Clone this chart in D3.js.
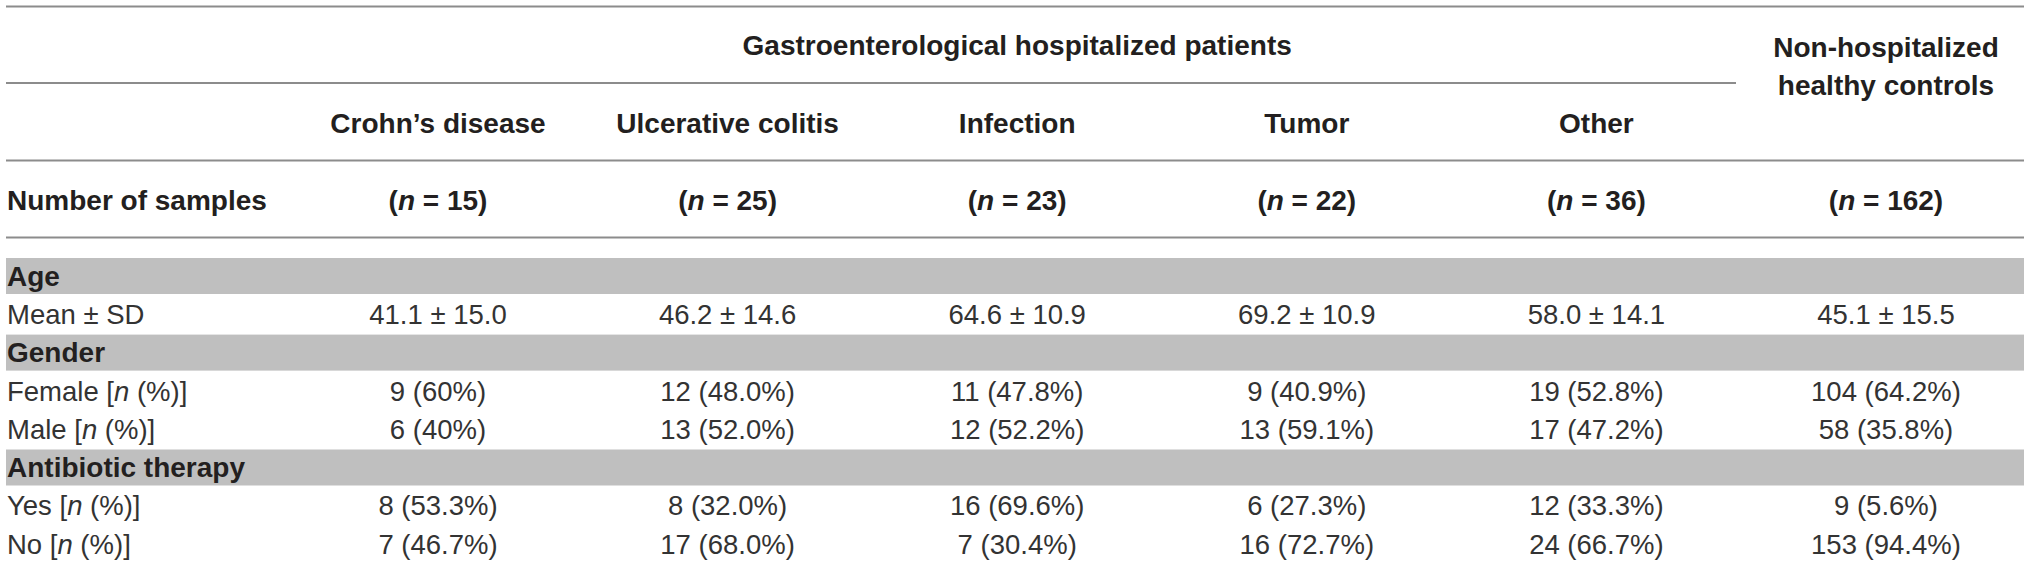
<!DOCTYPE html>
<html>
<head>
<meta charset="utf-8">
<script src="https://cdn.jsdelivr.net/npm/d3@7"></script>
<style>
  html, body { margin: 0; padding: 0; background: #fff; }
  svg { display: block; }
  .bold { font-family: "Liberation Sans", Arial, sans-serif; font-weight: bold; fill: #231f20; font-size: 28px; }
  .body { font-family: "Liberation Sans", Arial, sans-serif; font-weight: normal; fill: #333; font-size: 27.5px; }
</style>
</head>
<body>
<svg id="table"></svg>
<script>
// --- data ---
const groups = ["Crohn\u2019s disease", "Ulcerative colitis", "Infection", "Tumor", "Other", "Non-hospitalized healthy controls"];
const sampleSizes = [15, 25, 23, 22, 36, 162];
const ageMean = ["41.1", "46.2", "64.6", "69.2", "58.0", "45.1"];
const ageSd = ["15.0", "14.6", "10.9", "10.9", "14.1", "15.5"];
const femaleN = [9, 12, 11, 9, 19, 104];
const femalePct = ["60", "48.0", "47.8", "40.9", "52.8", "64.2"];
const maleN = [6, 13, 12, 13, 17, 58];
const malePct = ["40", "52.0", "52.2", "59.1", "47.2", "35.8"];
const abxYesN = [8, 8, 16, 6, 12, 9];
const abxYesPct = ["53.3", "32.0", "69.6", "27.3", "33.3", "5.6"];
const abxNoN = [7, 17, 7, 16, 24, 153];
const abxNoPct = ["46.7", "68.0", "30.4", "72.7", "66.7", "94.4"];
const spannerLabel = "Gastroenterological hospitalized patients";
const hospitalGroups = groups.slice(0, 5);

const pctCells = (n, p) => n.map((v, i) => `${v} (${p[i]}%)`);

// row list: section rows are grey bands, others carry one cell per group
const rows = [
    { key: "age", label: "Age", section: true },
    { key: "mean", label: "Mean \u00b1 SD", cells: ageMean.map((m, i) => `${m} \u00b1 ${ageSd[i]}`) },
    { key: "gender", label: "Gender", section: true },
    { key: "female", label: "Female", cells: pctCells(femaleN, femalePct) },
    { key: "male", label: "Male", cells: pctCells(maleN, malePct) },
    { key: "abx", label: "Antibiotic therapy", section: true },
    { key: "yes", label: "Yes", cells: pctCells(abxYesN, abxYesPct) },
    { key: "no", label: "No", cells: pctCells(abxNoN, abxNoPct) }
];

// --- layout ---
const width = 2031, height = 564;
const left = 6, right = 2024, textLeft = 7;
const svg = d3.select("#table").attr("width", width).attr("height", height);

const x = d3.scalePoint().domain(groups).range([438, 1886]);
const y = d3.scaleBand().domain(rows.map(r => r.key)).range([258, 258 + rows.length * 38.3]);
const bandH = y.bandwidth() - 2.3;
const rowMid = k => y(k) + bandH / 2;

const ruleColor = "#8c8c8c";
function rule(y0, x1) {
    svg.append("line").attr("x1", left).attr("x2", x1)
        .attr("y1", y0).attr("y2", y0)
        .attr("stroke", ruleColor).attr("stroke-width", 2);
}

// grey section bands
svg.selectAll("rect.band")
    .data(rows.filter(r => r.section)).enter().append("rect")
    .attr("class", "band")
    .attr("x", left).attr("width", right - left)
    .attr("y", d => y(d.key)).attr("height", bandH)
    .attr("fill", "#bfbfbf");

// horizontal rules
rule(6.5, right);
rule(83, 1736);
rule(160.5, right);
rule(237.5, right);

// spanner header
const spanX = (x(hospitalGroups[0]) + x(hospitalGroups[hospitalGroups.length - 1])) / 2;
svg.append("text").attr("class", "bold")
    .attr("x", spanX).attr("y", 45).attr("dy", "0.35em")
    .attr("text-anchor", "middle")
    .text(spannerLabel);

// group headers
svg.selectAll("text.head")
    .data(hospitalGroups).enter().append("text")
    .attr("class", "bold head")
    .attr("x", d => x(d)).attr("y", 123).attr("dy", "0.35em")
    .attr("text-anchor", "middle")
    .text(d => d);

// last header wraps on two lines
const lastHead = svg.append("text").attr("class", "bold").attr("text-anchor", "middle");
["Non-hospitalized", "healthy controls"].forEach((t, i) => {
    lastHead.append("tspan").attr("x", x(groups[5])).attr("y", 47 + i * 38).attr("dy", "0.35em").text(t);
});

// number of samples row
svg.append("text").attr("class", "bold")
    .attr("x", textLeft).attr("y", 200).attr("dy", "0.35em")
    .text("Number of samples");

svg.selectAll("text.nsamp")
    .data(groups).enter().append("text")
    .attr("class", "bold nsamp")
    .attr("x", d => x(d)).attr("y", 200).attr("dy", "0.35em")
    .attr("text-anchor", "middle")
    .each(function(d, i) {
        const t = d3.select(this);
        t.append("tspan").text("(");
        t.append("tspan").style("font-style", "italic").text("n");
        t.append("tspan").text(` = ${sampleSizes[i]})`);
    });

// row labels
rows.forEach(r => {
    const lbl = svg.append("text")
        .attr("class", r.section ? "bold" : "body")
        .attr("x", textLeft).attr("y", rowMid(r.key)).attr("dy", "0.35em");
    lbl.append("tspan").text(r.label);
    if (!r.section && r.key !== "mean") {
        lbl.append("tspan").text(" [");
        lbl.append("tspan").style("font-style", "italic").text("n");
        lbl.append("tspan").text(" (%)]");
    }
});

// data cells
rows.filter(r => !r.section).forEach(r => {
    svg.selectAll(null)
        .data(r.cells).enter().append("text")
        .attr("class", "body")
        .attr("x", (d, i) => x(groups[i])).attr("y", rowMid(r.key)).attr("dy", "0.35em")
        .attr("text-anchor", "middle")
        .text(d => d);
});
</script>
</body>
</html>
